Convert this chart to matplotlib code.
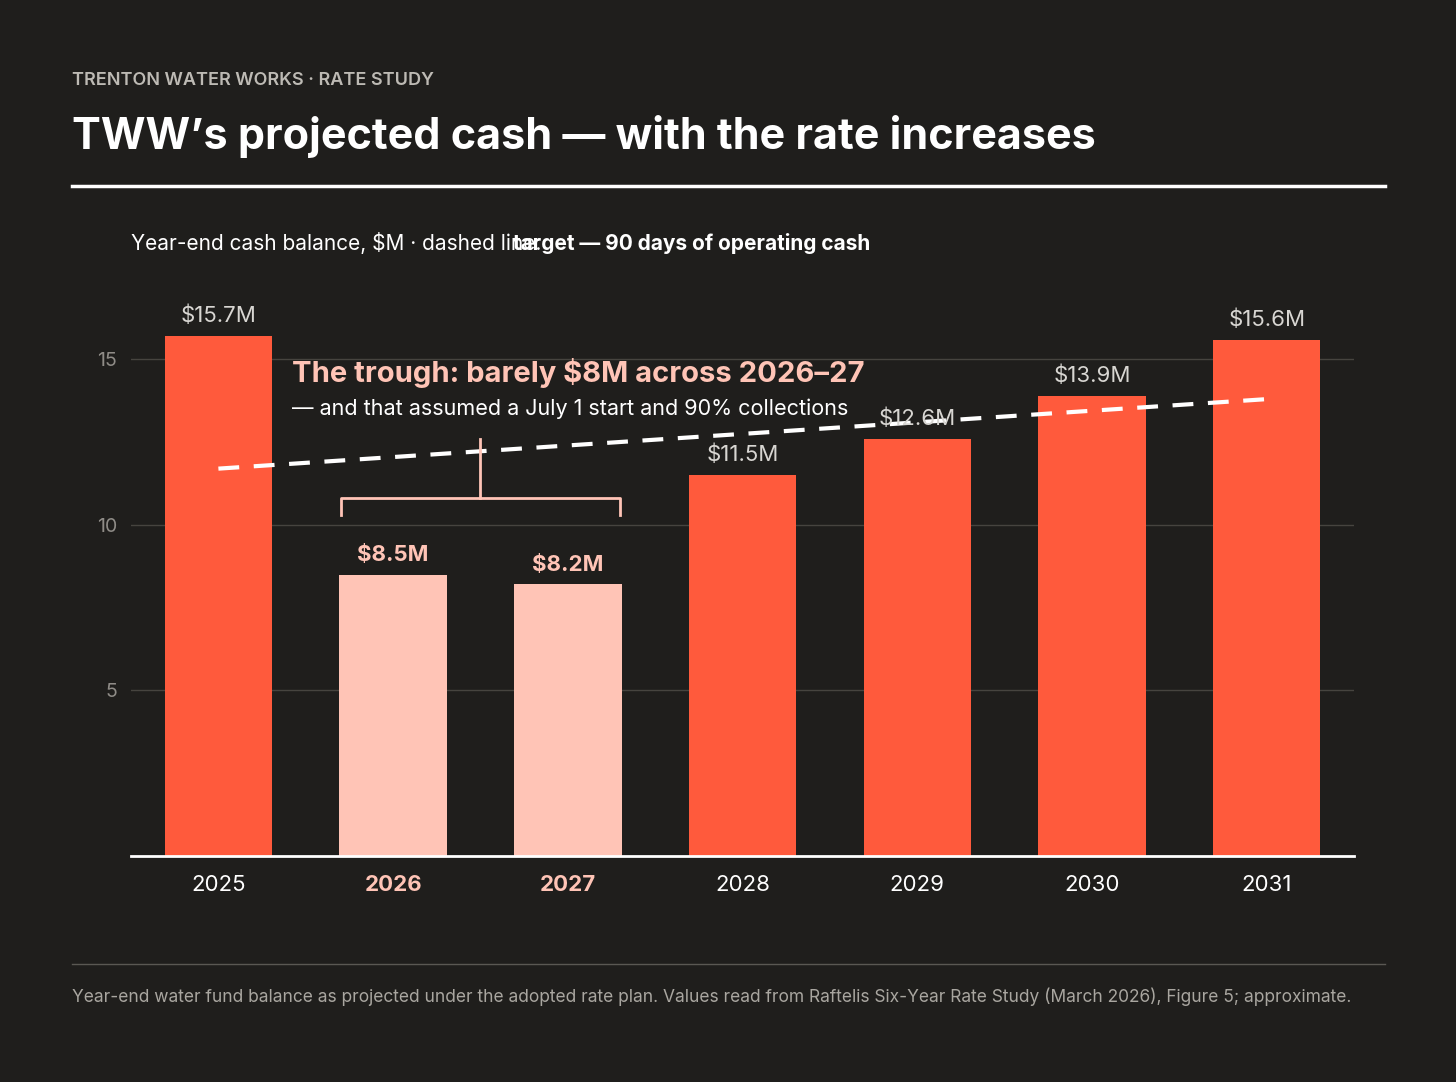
import matplotlib.pyplot as plt
import numpy as np

plt.rcParams['font.family'] = ['Inter', 'DejaVu Sans']

years = ['2025', '2026', '2027', '2028', '2029', '2030', '2031']
cash = [15.7, 8.5, 8.2, 11.5, 12.6, 13.9, 15.6]
labels = ['$15.7M', '$8.5M', '$8.2M', '$11.5M', '$12.6M', '$13.9M', '$15.6M']
trough = [False, True, True, False, False, False, False]
target = [11.7, 12.05, 12.4, 12.75, 13.1, 13.45, 13.8]

bg = '#1f1e1c'
red = '#ff5a3c'
pink = '#ffc4b6'

fig = plt.figure(figsize=(14.56, 10.82), dpi=100, facecolor=bg)
ax = fig.add_axes([0.09, 0.209, 0.84, 0.52], facecolor=bg)

x = np.arange(len(years))
cols = [pink if t else red for t in trough]
ax.bar(x, cash, width=0.615, color=cols, zorder=2)
ax.plot(x, target, color='white', lw=3, dashes=(5, 3.5), zorder=3)

for i, (v, l, t) in enumerate(zip(cash, labels, trough)):
    ax.text(i, v + 0.3, l, ha='center', va='bottom', fontsize=16,
            color=pink if t else '#d8d6d2', fontweight='bold' if t else 'normal')

ax.set_xlim(-0.5, 6.5)
ax.set_ylim(0, 17)
ax.set_yticks([5, 10, 15])
ax.set_xticks(x)
ax.set_xticklabels(years)
for lab, t in zip(ax.get_xticklabels(), trough):
    lab.set_color(pink if t else 'white')
    lab.set_fontweight('bold' if t else 'normal')
    lab.set_fontsize(16)
ax.tick_params(axis='x', length=0, pad=14)
ax.tick_params(axis='y', length=0, colors='#8f8c87', labelsize=14, pad=10)
ax.grid(axis='y', color='#46443f', lw=1, zorder=0)
for s in ['top', 'right', 'left']:
    ax.spines[s].set_visible(False)
ax.spines['bottom'].set_color('white')
ax.spines['bottom'].set_linewidth(2)

# bracket over trough
ax.plot([0.7, 0.7, 2.3, 2.3], [10.3, 10.8, 10.8, 10.3], color=pink, lw=2, zorder=3)
ax.plot([1.5, 1.5], [10.8, 12.6], color=pink, lw=2, zorder=3)
ax.text(0.42, 14.6, 'The trough: barely $8M across 2026\u201327', color=pink,
        fontsize=21, fontweight='bold', va='center')
ax.text(0.42, 13.5, '\u2014 and that assumed a July 1 start and 90% collections',
        color='white', fontsize=15.5, va='center')

fig.text(0.0495, 0.921, 'TRENTON WATER WORKS \u00b7 RATE STUDY', color='#bdbab4',
         fontsize=13, fontweight='semibold')
fig.text(0.0495, 0.874, 'TWW\u2019s projected cash \u2014 with the rate increases',
         color='white', fontsize=31, fontweight='bold', va='center')
fig.add_artist(plt.Line2D([0.0495, 0.951], [0.828, 0.828], color='white', lw=2.5))
fig.text(0.09, 0.775, 'Year-end cash balance, $M \u00b7 dashed line: ', color='white',
         fontsize=15, va='center')
fig.text(0.352, 0.775, 'target \u2014 90 days of operating cash', color='white',
         fontsize=15, va='center', fontweight='bold')
fig.add_artist(plt.Line2D([0.0495, 0.951], [0.109, 0.109], color='#5a5853', lw=1))
fig.text(0.0495, 0.079, 'Year-end water fund balance as projected under the adopted rate plan. '
         'Values read from Raftelis Six-Year Rate Study (March 2026), Figure 5; approximate.',
         color='#a9a6a0', fontsize=12.5, va='center')

fig.savefig('out.png', dpi=100, facecolor=bg)
